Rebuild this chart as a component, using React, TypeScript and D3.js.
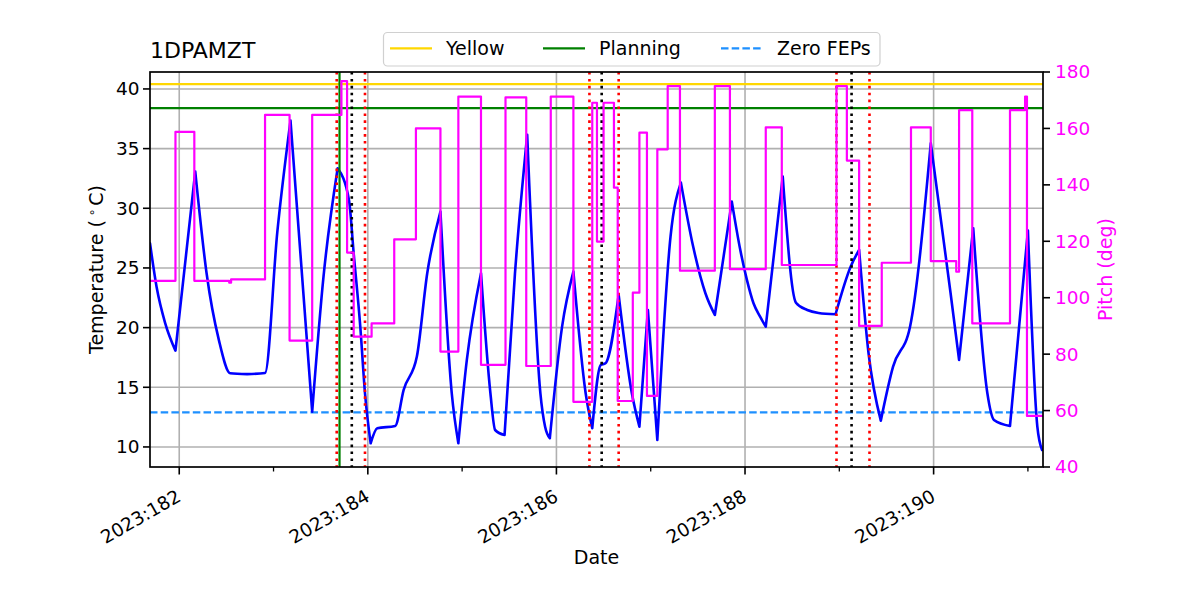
import React from 'react';
import * as d3 from 'd3';

// temperature (1DPAMZT), day of year 2023
const tempDays = [
  181.69, 181.76, 181.85, 181.96, 182.17, 182.29, 182.42, 182.54, 182.72, 182.91,
  183.04, 183.18, 183.41, 183.53, 183.68, 183.80, 183.85, 183.92, 183.97, 184.03,
  184.10, 184.29, 184.38, 184.52, 184.63, 184.77, 184.89, 184.96, 185.05, 185.20,
  185.30, 185.35, 185.45, 185.56, 185.69, 185.83, 185.88, 185.93, 186.06, 186.18,
  186.31, 186.38, 186.47, 186.52, 186.66, 186.80, 186.88, 186.97, 187.07, 187.21,
  187.32, 187.45, 187.58, 187.68, 187.86, 187.95, 188.02, 188.09, 188.16, 188.22,
  188.40, 188.54, 188.66, 188.78, 188.96, 189.12, 189.21, 189.31, 189.44, 189.57,
  189.75, 189.97, 190.18, 190.27, 190.42, 190.57, 190.64, 190.81, 191.00, 191.10,
  191.15,
];
const tempValues = [
  27.07, 23.4, 20.4, 18.07, 33.07, 24.56, 18.97, 16.18, 16.1, 16.2,
  28.0, 37.35, 12.96, 24.27, 33.35, 30.7, 26.23, 20.08, 14.5, 10.31,
  11.57, 11.76, 14.78, 17.57, 24.56, 29.72, 14.5, 10.31, 17.29, 24.56,
  14.5, 11.42, 11.0, 24.5, 36.15, 14.5, 11.7, 10.73, 20.08, 24.69,
  14.5, 11.57, 16.87, 17.01, 22.74, 14.5, 11.7, 21.48, 10.59, 27.62,
  32.15, 26.79, 22.88, 21.06, 30.56, 26.5, 24.0, 22.04, 20.92, 20.08,
  32.65, 22.09, 21.48, 21.23, 21.12, 25.11, 26.51, 17.85, 12.2, 16.73,
  20.08, 35.45, 22.88, 17.29, 28.33, 14.5, 12.26, 11.76, 28.13, 11.7,
  9.75,
];

// pitch (deg), step changes
const pitchDays = [
  181.69, 181.96, 182.16, 182.53, 182.55, 182.91, 183.17, 183.41, 183.72, 183.78,
  183.85, 184.04, 184.28, 184.51, 184.77, 184.96, 185.20, 185.46, 185.68, 185.94,
  186.18, 186.38, 186.43, 186.50, 186.61, 186.65, 186.81, 186.88, 186.96, 187.07,
  187.18, 187.31, 187.68, 187.84, 188.22, 188.39, 188.97, 189.08, 189.21, 189.45,
  189.76, 189.97, 190.24, 190.27, 190.41, 190.81, 190.97, 190.99, 191.16,
];
const pitchValues = [
  106.0, 158.8, 106.0, 105.3, 106.5, 164.8, 84.8, 164.8, 176.8, 116.0,
  86.2, 90.9, 120.7, 160.0, 80.9, 171.3, 76.2, 171.0, 75.8, 171.3,
  63.1, 169.1, 119.9, 169.1, 139.0, 63.4, 101.8, 158.5, 65.2, 152.6,
  175.0, 109.6, 175.0, 110.1, 160.4, 111.6, 175.0, 148.6, 90.0, 112.4,
  160.4, 113.0, 109.2, 166.5, 90.9, 166.5, 171.3, 58.1, 58.1,
];

const yellowLimit = 40.4;
const planningLimit = 38.4;
const zeroFepsLimit = 12.9;

const greenMarkDays = [183.70];
const redDotDays = [183.67, 183.97, 186.35, 186.66, 188.97, 189.32];
const blackDotDays = [183.83, 186.48, 189.13];

const xMajorTicks = [182, 184, 186, 188, 190];
const xMinorTicks = [183, 185, 187, 189, 191];
const tempTicks = [10, 15, 20, 25, 30, 35, 40];
const pitchTicks = [40, 60, 80, 100, 120, 140, 160, 180];

const legendItems = [
  { label: 'Yellow', color: '#FFD700', dash: undefined },
  { label: 'Planning', color: '#008000', dash: undefined },
  { label: 'Zero FEPs', color: '#1E90FF', dash: '7.5 3.2' },
];

const W = 1200;
const H = 600;
const L = 150, R = 1043, T = 72, B = 467;
const font = "'DejaVu Sans', sans-serif";

// split a series into monotone runs so peaks stay sharp
function monotoneRuns(values: number[]) {
  const ext = [0];
  for (let i = 1; i < values.length - 1; i++) {
    if ((values[i] - values[i - 1]) * (values[i + 1] - values[i]) < 0) ext.push(i);
  }
  ext.push(values.length - 1);
  const runs: number[][] = [];
  for (let k = 0; k < ext.length - 1; k++) {
    runs.push(d3.range(ext[k], ext[k + 1] + 1));
  }
  return runs;
}

export default function App() {
  const x = d3.scaleLinear().domain([181.69, 191.16]).range([L, R]);
  const yT = d3.scaleLinear().domain([8.32, 41.42]).range([B, T]);
  const yP = d3.scaleLinear().domain([40, 180]).range([B, T]);

  const tempLine = d3.line<number>()
    .x(i => x(tempDays[i]))
    .y(i => yT(tempValues[i]))
    .curve(d3.curveMonotoneX);
  const tempPath = monotoneRuns(tempValues).map(run => tempLine(run)).join('');

  const pitchLine = d3.line<number>()
    .x((d, i) => x(pitchDays[i]))
    .y(d => yP(d))
    .curve(d3.curveStepAfter);

  const legendX = [390, 543, 721];

  return (
    <svg width={W} height={H} style={{ position: 'absolute', left: 0, top: 0, background: '#fff' }} fontFamily={font}>
      <rect x={0} y={0} width={W} height={H} fill="#fff" />
      <defs>
        <clipPath id="plot"><rect x={L} y={T} width={R - L} height={B - T} /></clipPath>
      </defs>

      {/* grid */}
      {xMajorTicks.map(d => (
        <line key={'gx' + d} x1={x(d)} x2={x(d)} y1={T} y2={B} stroke="#b0b0b0" strokeWidth={1.6} />
      ))}
      {tempTicks.map(d => (
        <line key={'gy' + d} x1={L} x2={R} y1={yT(d)} y2={yT(d)} stroke="#b0b0b0" strokeWidth={1.6} />
      ))}

      <g clipPath="url(#plot)">
        <line x1={L} x2={R} y1={yT(yellowLimit)} y2={yT(yellowLimit)} stroke="#FFD700" strokeWidth={2.2} />
        <line x1={L} x2={R} y1={yT(planningLimit)} y2={yT(planningLimit)} stroke="#008000" strokeWidth={2.2} />
        <line x1={L} x2={R} y1={yT(zeroFepsLimit)} y2={yT(zeroFepsLimit)} stroke="#1E90FF" strokeWidth={2.2} strokeDasharray="7.5 3.2" />
        <path d={tempPath} fill="none" stroke="#0000FF" strokeWidth={2.6} strokeLinejoin="round" strokeLinecap="round" />
        {greenMarkDays.map(d => (
          <line key={'gm' + d} x1={x(d)} x2={x(d)} y1={T} y2={B} stroke="#008000" strokeWidth={2.2} />
        ))}
        {redDotDays.map(d => (
          <line key={'rd' + d} x1={x(d)} x2={x(d)} y1={T} y2={B} stroke="#FF0000" strokeWidth={2.6} strokeDasharray="2.6 4.3" />
        ))}
        {blackDotDays.map(d => (
          <line key={'bd' + d} x1={x(d)} x2={x(d)} y1={T} y2={B} stroke="#000" strokeWidth={2.6} strokeDasharray="2.6 4.3" />
        ))}
        <path d={pitchLine(pitchValues) || ''} fill="none" stroke="#FF00FF" strokeWidth={2.2} strokeLinejoin="round" />
      </g>

      {/* frame */}
      <rect x={L} y={T} width={R - L} height={B - T} fill="none" stroke="#000" strokeWidth={1.7} />

      {/* x axis */}
      {xMajorTicks.map(d => (
        <g key={'xt' + d}>
          <line x1={x(d)} x2={x(d)} y1={B} y2={B + 7.5} stroke="#000" strokeWidth={1.6} />
          <text transform={`translate(${x(d) + 3},${500}) rotate(-30)`} textAnchor="end" fontSize={18.5} fill="#000">
            {`2023:${d}`}
          </text>
        </g>
      ))}
      {xMinorTicks.map(d => (
        <line key={'xm' + d} x1={x(d)} x2={x(d)} y1={B} y2={B + 4.5} stroke="#000" strokeWidth={1.3} />
      ))}
      <text x={(L + R) / 2} y={564.3} textAnchor="middle" fontSize={19} fill="#000">Date</text>

      {/* left axis */}
      {tempTicks.map(d => (
        <g key={'yt' + d}>
          <line x1={L - 7} x2={L} y1={yT(d)} y2={yT(d)} stroke="#000" strokeWidth={1.6} />
          <text x={L - 10.5} y={yT(d)} dy="0.35em" textAnchor="end" fontSize={18.5} fill="#000">{d}</text>
        </g>
      ))}
      <text transform={`translate(102.7,${(T + B) / 2}) rotate(-90)`} textAnchor="middle" fontSize={19} fill="#000">
        Temperature (<tspan fontSize={12} dx={4} dy={-7}>{'\u2218'}</tspan><tspan dx={3} dy={7}>C)</tspan>
      </text>

      {/* right axis */}
      {pitchTicks.map(d => (
        <g key={'pt' + d}>
          <line x1={R} x2={R + 7} y1={yP(d)} y2={yP(d)} stroke="#000" strokeWidth={1.6} />
          <text x={R + 12} y={yP(d)} dy="0.35em" textAnchor="start" fontSize={18.5} fill="#FF00FF">{d}</text>
        </g>
      ))}
      <text transform={`translate(1111.7,${(T + B) / 2}) rotate(-90)`} textAnchor="middle" fontSize={19} fill="#FF00FF">
        Pitch (deg)
      </text>

      {/* title */}
      <text x={150} y={57.7} fontSize={22} fill="#000">1DPAMZT</text>

      {/* legend */}
      <rect x={383.5} y={32.5} width={496.5} height={33.5} rx={4} fill="#fff" fillOpacity={0.8} stroke="#d0d0d0" strokeWidth={1.2} />
      {legendItems.map((item, i) => (
        <g key={item.label}>
          <line x1={legendX[i]} x2={legendX[i] + 42} y1={48.3} y2={48.3} stroke={item.color} strokeWidth={2.2} strokeDasharray={item.dash} />
          <text x={legendX[i] + 56} y={54.5} fontSize={19} fill="#000">{item.label}</text>
        </g>
      ))}
    </svg>
  );
}
